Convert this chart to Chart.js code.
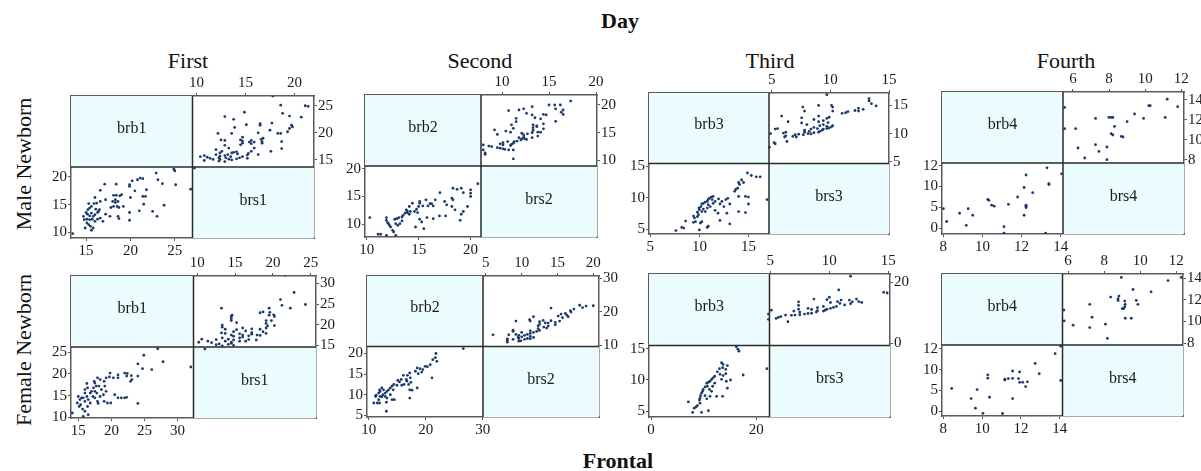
<!DOCTYPE html>
<html lang="en">
<head>
<meta charset="UTF-8">
<title>Frontal by day</title>
<script src="https://cdn.jsdelivr.net/npm/chart.js"></script>
<style>
  body { margin: 0; background: #fff; }
  #page { position: relative; width: 1201px; height: 471px; overflow: hidden; font-family: "Liberation Serif", serif; color: #111; }
  .t { position: absolute; text-align: center; font-size: 22px; line-height: 22px; white-space: nowrap; }
  .b { font-weight: bold; }
  .rot { transform: rotate(-90deg); }
  canvas { position: absolute; }
</style>
</head>
<body>
<div id="page">
  <div class="t b" style="left:520px;top:10px;width:200px;">Day</div>
  <div class="t b" style="left:518px;top:450px;width:200px;">Frontal</div>
  <div class="t rot" style="left:-76px;top:153px;width:200px;">Male Newborn</div>
  <div class="t rot" style="left:-76px;top:339px;width:200px;">Female Newborn</div>
</div>

<script>
// column headers
const days = ['First', 'Second', 'Third', 'Fourth'];
const dayCenters = [188, 480, 770, 1066];

// [brb, brs] pairs
const maleDay1 = [
  [13.5,9.8],[24.9,21.4],[25.0,21.1],[22.9,20.7],[21.1,19.8],[21.4,19.7],[20.8,19.5],[20.2,19.3],
  [19.9,18.6],[19.9,18.3],[23.1,19.5],[23.6,18.8],[25.1,18.6],[26.8,17.8],[18.4,18.7],[17.1,18.7],
  [16.6,17.6],[16.0,16.3],[17.2,15.9],[18.1,16.7],[18.4,16.7],[18.8,16.6],[19.0,16.8],[20.5,17.5],
  [21.8,17.7],[21.7,16.5],[21.4,16.5],[21.5,15.1],[20.0,16.3],[18.0,15.6],[18.3,15.4],[18.5,14.7],
  [18.7,14.5],[19.2,14.7],[18.3,15.9],[18.6,15.6],[18.1,14.7],[17.8,14.5],[17.2,13.3],[16.6,12.6],
  [16.9,12.0],[18.6,12.9],[18.7,12.5],[17.7,12.9],[19.9,12.2],[19.9,13.6],[21.0,13.9],[22.5,13.8],
  [23.0,12.9],[23.8,14.9],[15.0,13.6],[15.15,13.3],[15.4,13.0],[15.6,13.5],[15.8,12.9],[16.0,13.2],
  [16.3,13.6],[16.4,13.8],[15.4,14.4],[15.6,14.7],[15.9,15.2],[16.2,15.3],[16.6,15.6],[15.3,15.2],
  [15.1,12.4],[15.4,12.3],[15.7,12.4],[16.0,12.0],[15.1,11.7],[15.3,11.4],[15.5,11.1],[15.8,10.8],
  [15.6,10.4],[14.9,10.8],[14.8,12.3],[14.7,12.9],[15.2,14.1],[16.1,14.2],[16.3,12.4],[16.5,14.1]
];
const femaleDay1 = [
  [14.1,11.0],[16.5,10.6],[15.75,10.2],[27.0,25.8],[24.9,24.3],[27.8,22.8],[24.0,22.3],[24.7,21.2],
  [26.1,21.0],[32.0,21.6],[24.0,19.5],[23.0,19.6],[23.1,18.7],[22.9,18.3],[22.0,20.2],[22.4,20.1],
  [22.3,19.5],[21.0,19.8],[21.0,19.1],[19.8,20.2],[19.7,19.3],[20.3,19.1],[19.2,19.1],[18.9,18.3],
  [18.3,18.7],[17.9,19.1],[17.4,18.3],[20.5,15.2],[21.0,14.5],[21.5,14.5],[22.0,14.5],[22.3,14.6],
  [24.0,13.2],[19.4,13.3],[19.9,13.3],[18.9,13.7],[18.0,13.2],[18.3,14.8],[18.8,15.2],[19.2,16.0],
  [19.0,17.2],[18.5,16.4],[18.1,17.2],[17.5,17.9],[17.7,17.2],[17.3,16.8],[17.0,16.0],[16.8,15.6],
  [17.5,16.0],[17.8,15.6],[17.2,14.8],[16.3,17.8],[16.4,16.8],[16.0,16.4],[16.0,15.6],[16.3,14.8],
  [15.75,14.5],[16.5,14.1],[16.0,13.7],[15.5,14.5],[15.0,14.8],[15.25,14.1],[14.85,13.3],[15.15,12.5],
  [15.35,12.9],[15.65,11.9],[16.0,11.4],[16.4,12.5],[16.8,13.3],[17.5,14.5],[17.9,13.7]
];
const maleDay2 = [
  [10.3,11.2],[11.1,8.2],[11.35,8.2],[11.9,8.0],[12.8,8.0],[11.9,11.2],[11.9,10.7],[12.0,10.3],
  [12.1,10.1],[12.2,9.8],[12.3,9.5],[12.5,8.9],[12.6,8.6],[12.7,10.9],[12.9,11.0],[13.1,11.2],
  [13.4,11.3],[13.5,11.6],[13.7,12.0],[13.9,12.1],[14.1,11.8],[14.2,12.3],[12.8,10.1],[13.0,9.8],
  [13.2,10.1],[13.4,10.6],[14.4,13.8],[14.6,12.3],[14.8,12.7],[15.0,13.2],[15.1,13.8],[15.1,14.1],
  [15.4,13.3],[15.7,14.4],[15.9,13.3],[16.1,13.7],[16.25,13.7],[16.4,13.3],[16.6,14.4],[14.9,12.1],
  [15.1,10.9],[15.3,10.4],[15.5,9.2],[15.8,11.2],[16.4,11.0],[17.0,11.5],[17.6,11.5],[17.05,15.7],
  [17.5,14.1],[17.7,13.5],[18.2,14.7],[18.3,14.4],[18.2,13.2],[18.5,12.6],[18.3,16.5],[18.7,16.3],
  [19.1,16.5],[19.3,15.7],[19.0,10.7],[19.1,11.8],[19.3,12.3],[19.7,13.2],[20.0,15.0],[20.0,15.6],
  [20.0,16.2],[20.7,17.3],[14.7,9.5],[14.1,13.2],[13.9,12.4],[13.8,12.6]
];
const femaleDay2 = [
  [26.6,21.2],[21.8,20.0],[21.7,19.0],[21.25,18.5],[21.95,18.1],[20.8,17.3],[20.3,16.8],[19.9,16.9],
  [19.5,16.1],[19.0,16.3],[18.5,16.5],[18.2,15.7],[19.3,15.5],[18.7,15.1],[17.2,15.3],[16.8,14.7],
  [17.3,14.1],[16.6,13.7],[16.1,14.7],[16.7,13.3],[17.4,13.0],[17.0,12.5],[16.2,12.5],[15.7,13.7],
  [15.4,13.1],[15.1,13.5],[15.8,12.3],[14.96,12.3],[21.1,14.1],[18.5,11.65],[17.2,11.2],[17.6,11.1],
  [17.2,9.2],[14.4,12.5],[14.1,12.1],[13.8,11.65],[14.3,11.2],[13.5,11.2],[13.2,10.8],[12.9,10.4],
  [12.6,11.2],[12.3,11.65],[12.0,10.8],[11.9,11.2],[12.5,10.0],[12.9,9.6],[13.2,9.2],[13.8,10.0],
  [14.1,8.8],[14.5,8.8],[12.0,9.6],[11.75,10.4],[11.3,9.9],[11.2,9.6],[10.9,8.0],[11.5,8.0],
  [11.75,8.8],[12.3,9.5],[13.1,8.2],[13.1,6.0],[11.9,8.0]
];
const maleDay3 = [
  [7.6,4.8],[8.4,5.2],[8.2,5.3],[8.6,6.3],[9.4,6.1],[9.6,6.2],[9.5,6.8],[9.4,7.1],[10.0,4.9],
  [10.1,6.0],[10.25,6.2],[10.8,5.3],[10.9,5.5],[9.8,7.0],[9.9,7.3],[9.8,7.7],[10.0,8.1],[9.95,8.35],
  [10.15,8.6],[10.25,9.0],[10.4,9.1],[10.6,9.3],[10.8,9.4],[10.9,9.7],[11.0,9.9],[11.2,10.1],
  [11.4,10.2],[11.3,9.7],[10.8,8.35],[10.6,7.8],[10.25,7.8],[10.4,8.2],[10.9,8.9],[11.1,8.6],
  [11.4,9.1],[11.6,9.4],[11.95,9.8],[12.1,9.0],[12.3,9.4],[12.5,8.6],[12.7,9.7],[12.9,9.9],
  [13.1,9.0],[12.8,7.55],[13.1,5.85],[12.1,6.4],[11.9,7.55],[11.6,8.0],[13.6,11.0],[13.7,11.3],
  [13.9,11.5],[14.1,12.1],[14.0,12.4],[14.3,12.8],[14.5,12.4],[14.9,13.9],[15.3,13.5],[15.8,13.3],
  [16.2,13.3],[14.7,10.2],[15.0,10.1],[14.0,10.2],[14.0,7.8],[14.7,7.65],[15.0,9.0],[16.9,9.7]
];
const femaleDay3 = [
  [16.2,15.3],[16.5,14.9],[16.7,14.6],[22.0,11.8],[17.5,10.8],[13.4,12.75],[13.7,12.5],[14.5,12.3],
  [13.6,11.95],[14.2,11.7],[13.0,11.8],[12.6,11.3],[13.1,10.9],[13.7,10.7],[14.2,11.0],[13.4,10.1],
  [14.3,9.8],[15.1,10.0],[14.5,8.7],[13.6,7.4],[12.45,7.4],[12.1,10.6],[11.8,10.35],[11.5,10.1],
  [11.2,9.8],[10.9,9.65],[10.6,9.5],[10.7,9.0],[10.25,8.9],[9.9,8.5],[9.8,8.2],[9.6,7.9],[9.4,7.5],
  [9.3,7.1],[9.2,6.8],[9.3,6.3],[8.8,5.9],[8.55,5.7],[8.2,5.5],[7.9,4.85],[7.1,6.5],[9.6,4.85],
  [10.9,5.1],[11.5,8.2],[11.7,9.0],[12.1,9.5],[11.2,7.4],[10.6,7.0],[10.25,7.5],[11.1,8.5]
];
const maleDay4 = [
  [13.23,5.54],[11.1,5.54],[11.1,6.15],[9.17,6.28],[8.17,6.65],[12.13,7.25],[9.5,7.25],[8.83,7.44],
  [9.27,7.88],[8.0,7.88],[12.23,7.99],[12.23,8.12],[12.23,8.21],[10.6,8.12],[10.47,8.21],[11.33,8.3],
  [10.33,8.68],[10.27,8.77],[11.8,9.0],[12.57,9.41],[12.13,9.91],[13.4,10.2],[13.4,10.28],
  [12.23,11.11],[14.05,11.22],[13.3,11.8]
];
const femaleDay4 = [
  [11.05,5.76],[10.04,5.78],[9.65,6.28],[11.57,7.2],[10.38,7.33],[9.43,7.2],[9.74,8.07],[8.43,8.18],
  [12.24,8.36],[12.09,8.77],[12.33,8.82],[11.93,8.77],[14.05,8.95],[11.17,9.08],[11.35,9.14],
  [11.17,9.0],[11.87,9.14],[11.57,9.16],[10.29,9.17],[10.29,9.5],[12.94,9.6],[11.93,9.78],
  [11.57,9.87],[12.73,10.6],[13.76,11.54],[14.05,12.27]
];

// tick values
const ticksM1 = { llx: [15, 20, 25], lly: [10, 15, 20], urx: [10, 15, 20], ury: [15, 20, 25] };
const ticksF1 = { llx: [15, 20, 25, 30], lly: [10, 15, 20, 25], urx: [10, 15, 20, 25], ury: [15, 20, 25, 30] };
const ticksM2 = { llx: [10, 15, 20], lly: [10, 15, 20], urx: [10, 15, 20], ury: [10, 15, 20] };
const ticksF2 = { llx: [10, 20, 30], lly: [5, 10, 15, 20], urx: [5, 10, 15, 20], ury: [10, 20, 30] };
const ticksM3 = { llx: [5, 10, 15], lly: [5, 10, 15], urx: [5, 10, 15], ury: [5, 10, 15] };
const ticksF3 = { llx: [0, 20], lly: [5, 10, 15], urx: [5, 10, 15], ury: [0, 20] };
const ticksD4 = { llx: [8, 10, 12, 14], lly: [6, 8, 10, 12], urx: [6, 8, 10, 12], ury: [8, 10, 12, 14] };
// the day-4 lower-left axis is labelled like this in the original
const day4LeftLabels = ['0', '5', '10', '12'];

const panels = [
  { box: [71, 96, 314, 238], data: maleDay1, names: ['brb1', 'brs1'], ticks: ticksM1,
    llx: [13.3, 27.0], lly: [9.0, 21.8], urx: [9.6, 22.0], ury: [13.7, 26.8] },
  { box: [71, 276, 316, 418], data: femaleDay1, names: ['brb1', 'brs1'], ticks: ticksF1,
    llx: [13.9, 32.4], lly: [9.85, 26.2], urx: [9.5, 25.7], ury: [14.6, 31.8] },
  { box: [365, 95, 597, 237], data: maleDay2, names: ['brb2', 'brs2'], ticks: ticksM2,
    llx: [9.84, 21.0], lly: [7.7, 20.5], urx: [7.76, 20.1], ury: [9.0, 21.8] },
  { box: [367, 276, 599, 417], data: femaleDay2, names: ['brb2', 'brs2'], ticks: ticksF2,
    llx: [9.7, 30.06], lly: [4.6, 21.7], urx: [4.6, 20.8], ury: [9.6, 30.7] },
  { box: [649, 93, 889, 234], data: maleDay3, names: ['brb3', 'brs3'], ticks: ticksM3,
    llx: [4.86, 17.1], lly: [4.26, 15.4], urx: [4.77, 15.0], ury: [4.7, 17.2] },
  { box: [649, 274, 890, 417], data: femaleDay3, names: ['brb3', 'brs3'], ticks: ticksF3,
    llx: [-0.38, 22.5], lly: [4.1, 15.5], urx: [4.94, 15.14], ury: [-0.65, 22.7] },
  { box: [942, 92, 1184, 234], data: maleDay4, names: ['brb4', 'brs4'], ticks: ticksD4, leftLabels: day4LeftLabels,
    llx: [7.93, 14.12], lly: [5.45, 12.26], urx: [5.45, 12.15], ury: [7.67, 14.77] },
  { box: [942, 274, 1183, 416], data: femaleDay4, names: ['brb4', 'brs4'], ticks: ticksD4, leftLabels: day4LeftLabels,
    llx: [7.93, 14.14], lly: [5.52, 12.38], urx: [5.69, 12.37], ury: [7.82, 14.37] }
];

const page = document.getElementById('page');
days.forEach((d, i) => {
  const el = document.createElement('div');
  el.className = 't';
  el.style.left = (dayCenters[i] - 100) + 'px';
  el.style.top = '50px';
  el.style.width = '200px';
  el.textContent = d;
  page.appendChild(el);
});

const AXW = 30, AXH = 22;
const tickFont = { family: 'Liberation Serif', size: 15 };

// light boxes on the diagonal, the cross lines and the variable names
const matrixPlugin = {
  id: 'matrix',
  beforeDatasetsDraw(chart) {
    const ctx = chart.ctx;
    const { left, right, top, bottom } = chart.chartArea;
    const p = chart.options.plugins.matrix;
    const mx = chart.scales.xl.getPixelForValue(p.midX);
    const my = chart.scales.yl.getPixelForValue(p.midY);
    ctx.save();
    ctx.fillStyle = '#eafcfd';
    ctx.fillRect(left, top, mx - left, my - top);
    ctx.fillRect(mx, my, right - mx, bottom - my);
    ctx.strokeStyle = '#2a2a2a';
    ctx.lineWidth = 1.5;
    ctx.beginPath();
    ctx.moveTo(mx, top); ctx.lineTo(mx, bottom);
    ctx.moveTo(left, my); ctx.lineTo(right, my);
    ctx.stroke();
    ctx.fillStyle = '#1a1a1a';
    ctx.font = '16px "Liberation Serif"';
    ctx.textAlign = 'center';
    ctx.textBaseline = 'middle';
    ctx.fillText(p.names[0], (left + mx) / 2, (top + my) / 2 - 3);
    ctx.fillText(p.names[1], (mx + right) / 2, (my + bottom) / 2 - 2);
    ctx.restore();
  }
};

function axis(pos, min, max, vals, labels) {
  const vertical = pos === 'left' || pos === 'right';
  return {
    type: 'linear', position: pos, min: min, max: max,
    afterBuildTicks: s => { s.ticks = vals.map(v => ({ value: v })); },
    afterFit: s => { if (vertical) s.width = AXW; else s.height = AXH; },
    ticks: {
      autoSkip: false, maxRotation: 0, padding: 1, color: '#1a1a1a', font: tickFont,
      callback: v => labels ? labels[vals.indexOf(v)] : String(v)
    },
    grid: { drawOnChartArea: false, drawTicks: true, tickLength: 3, color: '#555' },
    border: { color: '#5a5a5a', width: 1.5 }
  };
}

panels.forEach(p => {
  const [L, T, R, B] = p.box;
  const cv = document.createElement('canvas');
  const w = (R - L) + 2 * AXW, h = (B - T) + 2 * AXH;
  cv.width = w; cv.height = h;
  cv.style.left = (L - AXW) + 'px';
  cv.style.top = (T - AXH) + 'px';
  page.appendChild(cv);

  const dotStyle = { pointRadius: 1.4, pointBackgroundColor: '#1b3a6b', pointBorderWidth: 0, showLine: false };
  new Chart(cv, {
    type: 'scatter',
    data: {
      datasets: [
        Object.assign({ data: p.data.map(d => ({ x: d[0], y: d[1] })), xAxisID: 'xl', yAxisID: 'yl' }, dotStyle),
        Object.assign({ data: p.data.map(d => ({ x: d[1], y: d[0] })), xAxisID: 'xu', yAxisID: 'yu' }, dotStyle)
      ]
    },
    options: {
      responsive: false,
      animation: false,
      layout: { padding: 0 },
      plugins: {
        legend: { display: false },
        tooltip: { enabled: false },
        matrix: { names: p.names, midX: p.llx[1], midY: p.lly[1] }
      },
      scales: {
        xl: axis('bottom', p.llx[0], 2 * p.llx[1] - p.llx[0], p.ticks.llx),
        yl: axis('left', p.lly[0], 2 * p.lly[1] - p.lly[0], p.ticks.lly, p.leftLabels),
        xu: axis('top', 2 * p.urx[0] - p.urx[1], p.urx[1], p.ticks.urx),
        yu: axis('right', 2 * p.ury[0] - p.ury[1], p.ury[1], p.ticks.ury)
      }
    },
    plugins: [matrixPlugin]
  });
});
</script>
</body>
</html>
